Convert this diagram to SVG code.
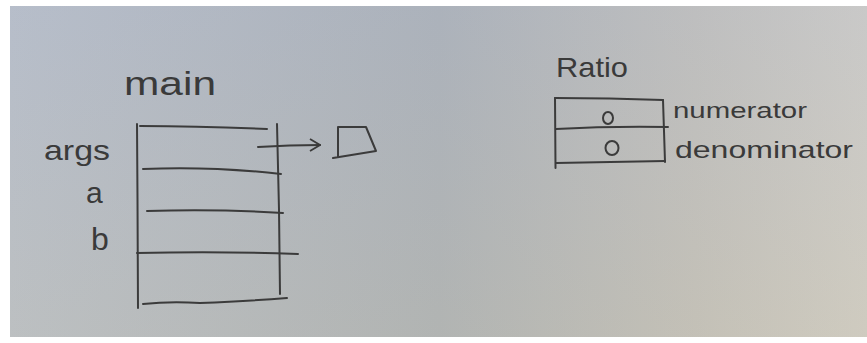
<svg xmlns="http://www.w3.org/2000/svg" width="867" height="343" viewBox="0 0 867 343">
<defs>
<linearGradient id="paperH" x1="0" y1="0" x2="1" y2="0">
<stop offset="0" stop-color="#b6bcc5"/>
<stop offset="0.5" stop-color="#a9aeb3"/>
<stop offset="0.8" stop-color="#bfbdb8"/>
<stop offset="1" stop-color="#cdcac3"/>
</linearGradient>
<linearGradient id="paperV" x1="0" y1="0" x2="0" y2="1">
<stop offset="0" stop-color="#b8c4e0" stop-opacity="0.18"/>
<stop offset="1" stop-color="#d8d0b0" stop-opacity="0.18"/>
</linearGradient>
<marker id="arrow" viewBox="0 0 12 14" refX="11" refY="7" markerWidth="12" markerHeight="14" markerUnits="userSpaceOnUse" orient="auto">
<path d="M1,1 L11,7 L1,13" fill="none" stroke="#3a3a3a" stroke-width="1.8"/>
</marker>
<style>
.ink{fill:none;stroke:#3b3b3b;stroke-width:2;stroke-linecap:round;stroke-linejoin:round}
.lbl{font-family:"Liberation Sans","DejaVu Sans",sans-serif;fill:#3a3a3a}
</style>
</defs>
<rect x="0" y="0" width="867" height="343" fill="#ffffff"/>
<rect x="10" y="6" width="857" height="331" fill="url(#paperH)"/>
<rect x="10" y="6" width="857" height="331" fill="url(#paperV)"/>

<g id="main-frame">
<text class="lbl" x="124" y="95" font-size="34" textLength="92" lengthAdjust="spacingAndGlyphs">main</text>
<text class="lbl" x="44" y="160" font-size="28" textLength="66" lengthAdjust="spacingAndGlyphs">args</text>
<text class="lbl" x="86" y="203" font-size="30">a</text>
<text class="lbl" x="91" y="250" font-size="32">b</text>
<path class="ink" d="M137,124 L137.5,200 L138,308"/>
<path class="ink" d="M277,124 L279,210 L280,294"/>
<path class="ink" d="M140,126 Q200,126 267,129"/>
<path class="ink" d="M143,169 Q210,166 281,174"/>
<path class="ink" d="M147,211 Q220,209 283,213"/>
<path class="ink" d="M137,253 Q220,251 298,254"/>
<path class="ink" d="M143,304 Q170,301 200,303 Q250,301 287,298"/>
</g>

<g id="args-array">
<path class="ink" d="M338,127 L366,127 L376,151 L333,158 M338,127 L338,157"/>
</g>

<g id="ratio-object">
<text class="lbl" x="556" y="77" font-size="28" textLength="72" lengthAdjust="spacingAndGlyphs">Ratio</text>
<path class="ink" d="M555,98 L555.5,168"/>
<path class="ink" d="M663,100 L665,162"/>
<path class="ink" d="M555,98 Q610,98 663,100"/>
<path class="ink" d="M556,129 Q610,126 668,127"/>
<path class="ink" d="M556,163 Q610,162 665,161"/>
<ellipse class="ink" cx="608" cy="118" rx="5" ry="6"/>
<ellipse class="ink" cx="612" cy="148" rx="6.5" ry="7"/>
<text class="lbl" x="673" y="118" font-size="22" textLength="134" lengthAdjust="spacingAndGlyphs">numerator</text>
<text class="lbl" x="675" y="158" font-size="24" textLength="178" lengthAdjust="spacingAndGlyphs">denominator</text>
</g>

<g id="connectors">
<path class="ink" d="M258,147 Q290,145 320,145" marker-end="url(#arrow)"/>
</g>
</svg>
